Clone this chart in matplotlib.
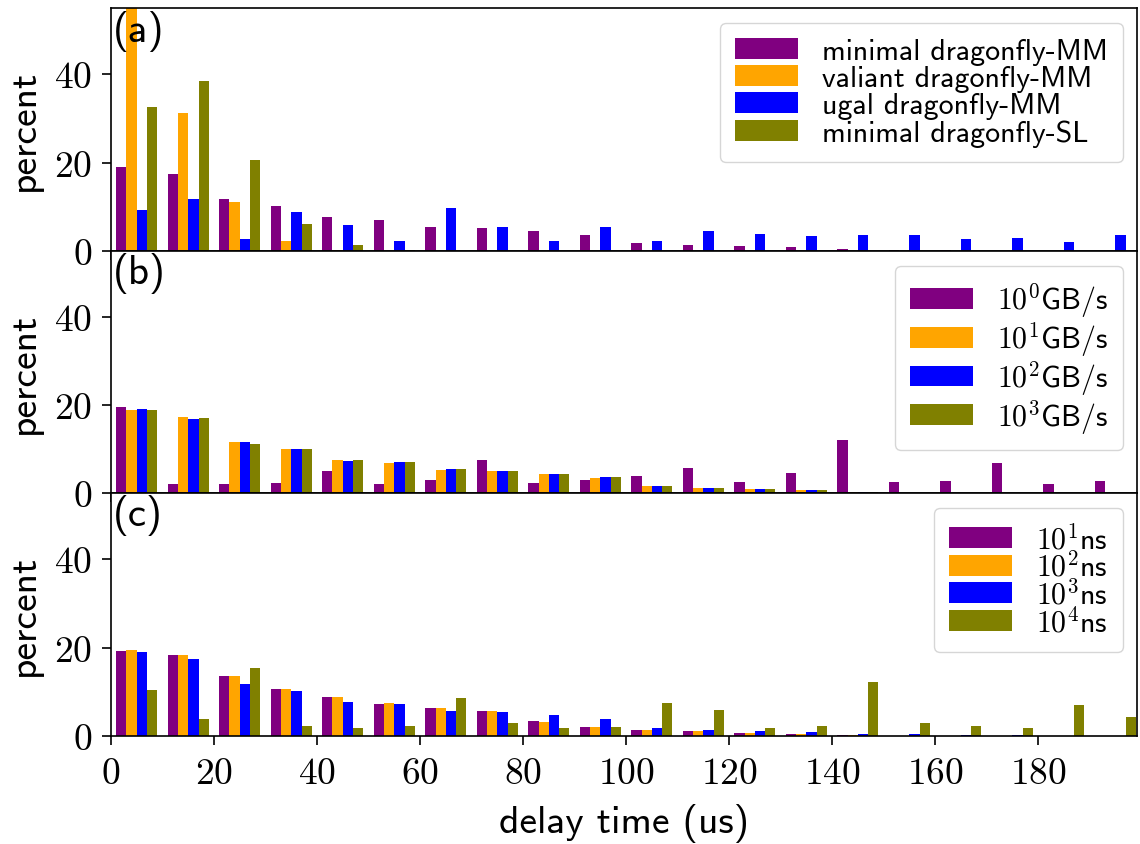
import numpy as np
import matplotlib.pyplot as plt

plt.rcParams['font.family'] = 'cmss10'
plt.rcParams['mathtext.fontset'] = 'cm'
plt.rcParams['axes.unicode_minus'] = False
fontsize = 28.5
ticksize = 27

# histogram bins (left edges, us)
bins = np.arange(0, 200, 10)

# (a) routing algorithms
minimal_mm = [18.9, 17.3, 11.7, 10.1, 7.6, 6.9, 5.3, 5.1, 4.4, 3.5, 1.7, 1.2, 1.0, 0.8, 0.3, 0.1, 0.1, 0, 0, 0]
valiant_mm = [58.0, 31.2, 11.1, 2.3, 0.15, 0, 0, 0, 0, 0, 0, 0, 0, 0, 0, 0, 0, 0, 0, 0]
ugal_mm = [9.2, 11.7, 2.6, 8.7, 5.8, 2.3, 9.8, 5.5, 2.3, 5.5, 2.3, 4.4, 3.9, 3.3, 3.5, 3.5, 2.6, 3.0, 1.9, 3.5]
minimal_sl = [32.6, 38.5, 20.5, 6.0, 1.2, 0.15, 0, 0, 0, 0, 0, 0, 0, 0, 0, 0, 0, 0, 0, 0]

# (b) link bandwidth
bw_1 = [19.6, 2.1, 2.1, 2.3, 5.1, 2.1, 3.0, 7.6, 2.3, 3.0, 3.9, 5.8, 2.6, 4.6, 12.1, 2.6, 2.8, 6.9, 2.1, 2.8]
bw_10 = [18.9, 17.3, 11.7, 10.1, 7.6, 6.9, 5.3, 5.1, 4.4, 3.5, 1.7, 1.2, 1.0, 0.76, 0.3, 0.1, 0.1, 0, 0, 0]
bw_100 = [19.2, 16.9, 11.7, 10.1, 7.3, 7.1, 5.5, 5.1, 4.4, 3.7, 1.7, 1.2, 1.0, 0.76, 0.3, 0.1, 0.1, 0, 0, 0]
bw_1000 = [18.9, 17.1, 11.2, 10.1, 7.6, 7.1, 5.5, 5.1, 4.4, 3.7, 1.7, 1.2, 1.0, 0.76, 0.3, 0.1, 0.1, 0, 0, 0]

# (c) link latency
lat_10 = [19.2, 18.3, 13.5, 10.6, 8.8, 7.2, 6.3, 5.6, 3.3, 2.0, 1.3, 1.06, 0.6, 0.4, 0.15, 0, 0, 0, 0, 0]
lat_100 = [19.4, 18.3, 13.5, 10.6, 8.8, 7.4, 6.3, 5.6, 3.1, 2.0, 1.3, 1.06, 0.6, 0.4, 0.15, 0, 0, 0, 0, 0]
lat_1000 = [18.9, 17.4, 11.7, 10.1, 7.6, 7.2, 5.6, 5.4, 4.7, 3.8, 1.7, 1.3, 1.06, 0.8, 0.4, 0.4, 0.1, 0.1, 0, 0]
lat_10000 = [10.3, 3.8, 15.3, 2.2, 1.7, 2.2, 8.5, 2.9, 1.7, 2.0, 7.4, 5.8, 1.7, 2.2, 12.2, 2.9, 2.2, 1.7, 6.9, 4.2]

colors = ['purple', 'orange', 'blue', 'olive']

panels = [
    ('(a)', [minimal_mm, valiant_mm, ugal_mm, minimal_sl],
     ['minimal dragonfly-MM', 'valiant dragonfly-MM', 'ugal dragonfly-MM', 'minimal dragonfly-SL'], 0.0),
    ('(b)', [bw_1, bw_10, bw_100, bw_1000],
     [r'$10^0$GB/s', r'$10^1$GB/s', r'$10^2$GB/s', r'$10^3$GB/s'], 0.0),
    ('(c)', [lat_10, lat_100, lat_1000, lat_10000],
     [r'$10^1$ns', r'$10^2$ns', r'$10^3$ns', r'$10^4$ns'], -0.1),
]

fig, axes = plt.subplots(3, 1, figsize=(11.4, 8.45), dpi=100, sharex=True)
fig.subplots_adjust(left=0.0974, right=0.9978, bottom=0.1282, top=0.989, hspace=0)

binwidth = 10
barwidth = 0.8 * binwidth / 4
for ax, (tag, series, labels, spacing) in zip(axes, panels):
    for i, (vals, lab) in enumerate(zip(series, labels)):
        ax.bar(bins + 0.1 * binwidth + i * barwidth, vals, width=barwidth,
               align='edge', color=colors[i], label=lab)
    ax.set_xlim(0, 199.3)
    ax.set_ylim(0, 55)
    ax.set_yticks([0, 20, 40])
    ax.set_yticklabels([r'$0$', r'$20$', r'$40$'])
    ax.set_ylabel('percent', fontsize=fontsize, labelpad=9)
    ax.tick_params(labelsize=ticksize, length=6.5, width=1.2)
    ax.tick_params(axis='y', pad=7)
    ax.tick_params(axis='x', pad=9)
    for s in ax.spines.values():
        s.set_linewidth(1.2)
    ax.text(0.002, 0.995, tag, transform=ax.transAxes, fontsize=29.5, va='top', ha='left')
    ax.legend(loc='upper right', fontsize=21.5, handlelength=2.1, labelspacing=spacing,
              handletextpad=0.8, borderpad=0.5)

xt = np.arange(0, 200, 20)
axes[-1].set_xticks(xt)
axes[-1].set_xticklabels([r'$%d$' % v for v in xt])
axes[-1].set_xlabel('delay time (us)', fontsize=fontsize, labelpad=9)

plt.savefig('out.png')
